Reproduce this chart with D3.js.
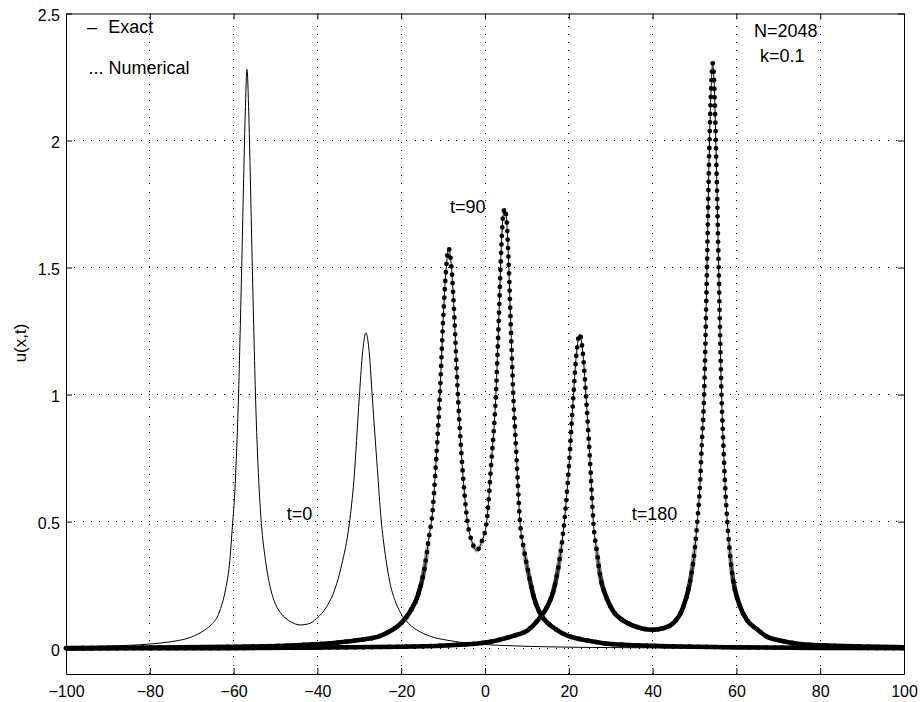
<!DOCTYPE html>
<html>
<head>
<meta charset="utf-8">
<script src="https://cdn.jsdelivr.net/npm/d3@7"></script>
<style>
  body { margin: 0; background: #fff; }
  svg { display: block; font-family: "Liberation Sans", Arial, Helvetica, sans-serif; }
</style>
</head>
<body>
<div id="chart"></div>
<script>
// axis ticks
var xTicks = [-100, -80, -60, -40, -20, 0, 20, 40, 60, 80, 100];
var yTicks = [0, 0.5, 1, 1.5, 2, 2.5];
var yTickLabels = ["0", "0.5", "1", "1.5", "2", "2.5"];

// t=0 (exact only)
var t0X = [-100, -90, -80, -75, -70, -67, -65.6, -63.5, -61.9, -61, -60.2, -59.8, -59.3, -58.8, -58.4,
    -58.0, -57.6, -57.2, -56.8, -56.4, -56.0, -55.6, -55.2, -54.8, -54.3, -53.5, -52.5, -51.3, -50,
    -48.5, -46.5, -44, -42, -40.2, -37.8, -35.8, -34.2, -32.4, -31.3, -30.0, -29.3, -28.42, -27.6,
    -26.9, -25.7, -24.8, -23.8, -22.7, -21.5, -20.3, -18.3, -16.3, -13, -9, -5, 0, 5, 15, 30, 50, 100];
var t0U = [0.006, 0.010, 0.018, 0.027, 0.046, 0.072, 0.09, 0.14, 0.235, 0.33, 0.50, 0.59, 0.77, 1.01, 1.27,
    1.55, 1.85, 2.12, 2.28, 2.12, 1.85, 1.55, 1.27, 1.01, 0.77, 0.52, 0.36, 0.245, 0.175,
    0.135, 0.107, 0.093, 0.098, 0.118, 0.165, 0.235, 0.33, 0.49, 0.66, 0.99, 1.15, 1.243, 1.16,
    0.99, 0.71, 0.51, 0.37, 0.26, 0.19, 0.145, 0.10, 0.074, 0.048, 0.033, 0.023, 0.016, 0.012, 0.007, 0.004, 0.002, 0.001];

// t=90 (exact + numerical)
var t90X = [-100, -80, -60, -45, -35, -30, -25, -22, -20, -17.9, -16, -14.5, -13.13, -12.7, -11.7,
    -10.74, -10.0, -9.3, -8.67, -8.0, -7.3, -6.6, -5.6, -4.2, -3.1, -1.98, -0.8, 0.4, 1.5, 2.6,
    3.3, 3.9, 4.3, 4.7, 5.1, 5.5, 6.1, 6.75, 7.5, 8.35, 9.3, 10.33, 11.7, 13.1, 15, 17, 19.5,
    22, 25, 30, 40, 60, 80, 100];
var t90U = [0.002, 0.004, 0.007, 0.013, 0.024, 0.034, 0.05, 0.075, 0.10, 0.145, 0.21, 0.31, 0.465, 0.51, 0.73,
    1.01, 1.29, 1.49, 1.575, 1.50, 1.30, 1.04, 0.76, 0.50, 0.42, 0.387, 0.42, 0.50, 0.73, 1.00,
    1.30, 1.58, 1.70, 1.733, 1.70, 1.58, 1.30, 1.00, 0.76, 0.50, 0.39, 0.30, 0.20, 0.14, 0.10, 0.075, 0.052,
    0.04, 0.03, 0.018, 0.011, 0.005, 0.003, 0.002];

// t=180 (exact + numerical)
var t180X = [-100, -60, -40, -20, -1.2, 6.75, 10, 13.1, 15, 16.3, 17.7, 18.93, 20.0, 21.0, 21.8,
    22.6, 23.4, 24.2, 25.2, 25.85, 26.8, 27.45, 29, 30.6, 33, 35.4, 37.5, 40, 42.5, 44.94, 47.33,
    48.9, 50.12, 50.67, 51.3, 51.7, 52.3, 52.98, 53.54, 53.95, 54.34, 54.75, 55.13, 55.77, 56.45,
    57.0, 57.28, 57.83, 58.88, 60.86, 62.5, 64.84, 67.5, 70.4, 75, 80, 90, 100];
var t180U = [0.001, 0.002, 0.004, 0.007, 0.021, 0.05, 0.07, 0.122, 0.17, 0.225, 0.34, 0.50, 0.71, 0.97, 1.155,
    1.238, 1.155, 0.97, 0.70, 0.50, 0.37, 0.29, 0.20, 0.147, 0.11, 0.09, 0.079, 0.074, 0.08, 0.10, 0.165,
    0.26, 0.40, 0.50, 0.64, 0.79, 1.00, 1.50, 1.97, 2.20, 2.304, 2.20, 1.97, 1.50, 1.00,
    0.76, 0.65, 0.50, 0.31, 0.167, 0.113, 0.077, 0.045, 0.032, 0.018, 0.013, 0.008, 0.005];

var width = 920, height = 702;
var font = "'Liberation Sans', Arial, Helvetica, sans-serif";

var svg = d3.select("#chart").append("svg")
    .attr("width", width)
    .attr("height", height);

var x = d3.scaleLinear().domain([-100, 100]).range([66, 904]);
var y = d3.scaleLinear().domain([-0.1, 2.5]).range([674, 13.5]);

// dotted grid
var grid = svg.append("g").attr("shape-rendering", "crispEdges");
grid.selectAll(".vgrid")
    .data(xTicks.slice(1, -1))
    .enter().append("line")
        .attr("x1", function(d) { return x(d); })
        .attr("x2", function(d) { return x(d); })
        .attr("y1", y(-0.1))
        .attr("y2", y(2.5))
        .attr("stroke", "#000")
        .attr("stroke-dasharray", "1,7.3");
grid.selectAll(".hgrid")
    .data(yTicks.slice(0, -1))
    .enter().append("line")
        .attr("x1", x(-100))
        .attr("x2", x(100))
        .attr("y1", function(d) { return y(d); })
        .attr("y2", function(d) { return y(d); })
        .attr("stroke", "#000")
        .attr("stroke-dasharray", "1,7.3");

var line = d3.line()
    .x(function(d) { return x(d[0]); })
    .y(function(d) { return y(d[1]); })
    .curve(d3.curveMonotoneX);

var s0 = d3.zip(t0X, t0U),
    s90 = d3.zip(t90X, t90U),
    s180 = d3.zip(t180X, t180U);

// low part of the dotted curves: the markers merge into a solid band, fading out upward
var defs = svg.append("defs");
var grad = defs.append("linearGradient")
    .attr("id", "fade")
    .attr("gradientUnits", "userSpaceOnUse")
    .attr("x1", 0).attr("x2", 0)
    .attr("y1", y(0.45)).attr("y2", y(0.22));
grad.append("stop").attr("offset", 0).attr("stop-color", "#000");
grad.append("stop").attr("offset", 1).attr("stop-color", "#fff");
defs.append("mask").attr("id", "low")
    .attr("maskUnits", "userSpaceOnUse")
    .attr("x", 0).attr("y", 0).attr("width", width).attr("height", height)
    .append("rect")
        .attr("x", 0).attr("y", 0)
        .attr("width", width).attr("height", height)
        .attr("fill", "url(#fade)");

// exact t=0
svg.append("path")
    .attr("d", line(s0))
    .attr("fill", "none")
    .attr("stroke", "#000")
    .attr("stroke-width", 1);

// numerical t=90, t=180
[s90, s180].forEach(function(s) {
    svg.append("path")
        .attr("d", line(s))
        .attr("fill", "none")
        .attr("stroke", "#000")
        .attr("stroke-width", 4.6)
        .attr("mask", "url(#low)");
    svg.append("path")
        .attr("d", line(s))
        .attr("fill", "none")
        .attr("stroke", "#000")
        .attr("stroke-width", 4.8)
        .attr("stroke-linecap", "round")
        .attr("stroke-dasharray", "0,8.5");
    svg.append("path")   // exact on top
        .attr("d", line(s))
        .attr("fill", "none")
        .attr("stroke", "#000")
        .attr("stroke-width", 1);
});

// box axes, ticks pointing inward
function styleAxis(g, size) {
    g.attr("font-family", font).attr("font-size", size);
    g.selectAll("path, line").attr("stroke", "#000");
    g.selectAll("text").attr("fill", "#000");
}

svg.append("g")
    .attr("transform", "translate(0," + y(-0.1) + ")")
    .call(d3.axisBottom(x).tickValues(xTicks).tickSizeInner(-6).tickSizeOuter(0)
        .tickPadding(12).tickFormat(d3.format("d")))
    .call(styleAxis, 16);

svg.append("g")
    .attr("transform", "translate(0," + y(2.5) + ")")
    .call(d3.axisTop(x).tickValues(xTicks).tickSizeInner(-6).tickSizeOuter(0).tickFormat(""))
    .call(styleAxis, 16);

svg.append("g")
    .attr("transform", "translate(" + x(-100) + ",0)")
    .call(d3.axisLeft(y).tickValues(yTicks).tickSizeInner(-6).tickSizeOuter(0)
        .tickPadding(6).tickFormat(function(d, i) { return yTickLabels[i]; }))
    .call(styleAxis, 16)
    .selectAll("text").attr("dy", "0.45em");

svg.append("g")
    .attr("transform", "translate(" + x(100) + ",0)")
    .call(d3.axisRight(y).tickValues(yTicks).tickSizeInner(-6).tickSizeOuter(0).tickFormat(""))
    .call(styleAxis, 16);

// y label
svg.append("text")
    .attr("transform", "translate(26,343) rotate(-90)")
    .attr("text-anchor", "middle")
    .attr("font-family", font)
    .attr("font-size", 17)
    .text("u(x,t)");

// annotations
var notes = svg.append("g").attr("font-family", font).attr("font-size", 18).attr("fill", "#000");
notes.append("text").attr("x", 87).attr("y", 33.3).text("\u2013");
notes.append("text").attr("x", 108.3).attr("y", 33.3).text("Exact");
notes.append("text").attr("x", 88.5).attr("y", 74).text("... Numerical");
notes.append("text").attr("x", 754).attr("y", 37.3).text("N=2048");
notes.append("text").attr("x", 760).attr("y", 61.7).text("k=0.1");
notes.append("text").attr("x", 286.7).attr("y", 519.5).text("t=0");
notes.append("text").attr("x", 450).attr("y", 212.7).text("t=90");
notes.append("text").attr("x", 631.7).attr("y", 519.5).text("t=180");
</script>
</body>
</html>
